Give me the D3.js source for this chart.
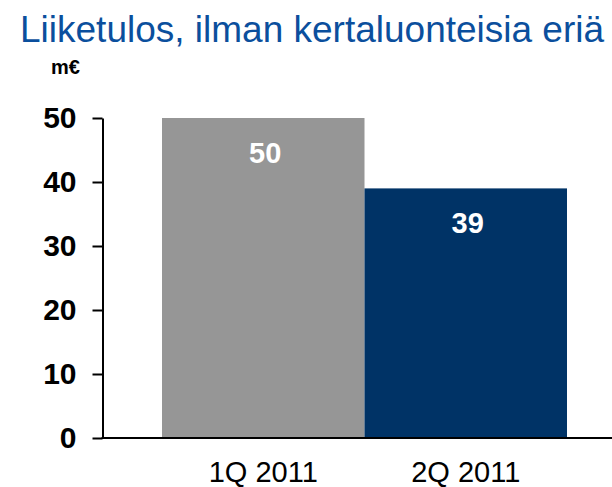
<!DOCTYPE html>
<meta charset="utf-8">
<script src="https://d3js.org/d3.v7.min.js"></script>
<style>
  body { margin: 0; background: #fff; }
  text { font-family: "Liberation Sans", Arial, sans-serif; }
</style>
<body>
<div id="chart"></div>
<script>
// data
var categories = ["1Q 2011", "2Q 2011"];
var values = [50, 39];
var barColors = ["#969696", "#003366"];
var yTicks = [0, 10, 20, 30, 40, 50];

var W = 612, H = 487;

var svg = d3.select("#chart")
  .append("svg")
    .attr("width", W)
    .attr("height", H);

// title and unit
svg.append("text")
  .attr("x", 20)
  .attr("y", 42)
  .style("font-size", "37px")
  .style("fill", "#0b4f9d")
  .text("Liiketulos, ilman kertaluonteisia eriä");

svg.append("text")
  .attr("x", 51)
  .attr("y", 74)
  .style("font-size", "20px")
  .style("font-weight", "bold")
  .text("m€");

var y = d3.scaleLinear()
  .domain([0, 50])
  .range([438, 118]);

var x = d3.scaleBand()
  .domain(categories)
  .range([162, 567])
  .paddingInner(0)
  .paddingOuter(0);

// bars
svg.selectAll("rect.bar")
  .data(values)
  .enter().append("rect")
    .attr("class", "bar")
    .attr("x", function(d, i) { return x(categories[i]); })
    .attr("y", function(d) { return y(d); })
    .attr("width", x.bandwidth())
    .attr("height", function(d) { return y(0) - y(d); })
    .attr("fill", function(d, i) { return barColors[i]; });

// value labels inside bars
svg.selectAll("text.val")
  .data(values)
  .enter().append("text")
    .attr("class", "val")
    .attr("x", function(d, i) { return x(categories[i]) + x.bandwidth() / 2 + 2; })
    .attr("y", function(d) { return y(d) + 45; })
    .attr("text-anchor", "middle")
    .style("font-size", "29px")
    .style("font-weight", "bold")
    .style("fill", "#fff")
    .text(function(d) { return d; });

// y axis
var yAxis = svg.append("g")
  .attr("transform", "translate(102.5,0)")
  .call(d3.axisLeft(y).tickValues(yTicks).tickSize(10).tickSizeOuter(0).tickPadding(16));

yAxis.select(".domain").attr("stroke", "#000").attr("stroke-width", 2);
yAxis.selectAll(".tick line").attr("stroke", "#000").attr("stroke-width", 2);
yAxis.selectAll(".tick text")
  .attr("dy", "0.3em")
  .style("font-family", "'Liberation Sans', Arial, sans-serif")
  .style("font-size", "30px")
  .style("font-weight", "bold")
  .style("fill", "#000");

// baseline
svg.append("line")
  .attr("x1", 101.5)
  .attr("x2", W)
  .attr("y1", y(0))
  .attr("y2", y(0))
  .attr("stroke", "#000")
  .attr("stroke-width", 2);

// category labels
svg.selectAll("text.cat")
  .data(categories)
  .enter().append("text")
    .attr("class", "cat")
    .attr("x", function(d) { return x(d) + x.bandwidth() / 2; })
    .attr("y", 482)
    .attr("text-anchor", "middle")
    .style("font-size", "29px")
    .style("fill", "#000")
    .text(function(d) { return d; });
</script>
</body>
